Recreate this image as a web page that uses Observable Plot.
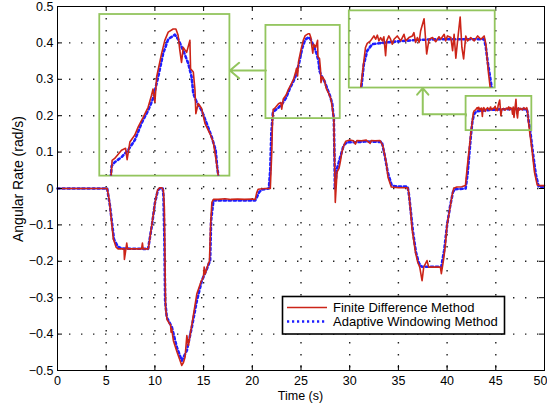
<!DOCTYPE html>
<html><head><meta charset="utf-8">
<script src="https://cdn.jsdelivr.net/npm/d3@7"></script>
<script src="https://cdn.jsdelivr.net/npm/@observablehq/plot@0.6"></script>
<style>
body{margin:0;background:#fff;}
#wrap{position:relative;width:547px;height:412px;overflow:hidden;}
#wrap svg{position:absolute;max-width:none;}
</style></head><body><div id="wrap"></div>
<script>
// ---- data ----
const fdTime = [0,5.1,5.32,5.73,6.01,6.22,6.83,6.87,7.11,7.19,8.63,8.72,8.79,9.33,9.68,10.02,10.26,10.48,10.71,10.87,10.97,11.1,11.25,11.46,11.61,11.66,11.72,11.9,12.28,12.59,12.76,12.93,13.1,13.28,13.44,13.82,14.31,14.75,14.98,15.06,15.16,15.5,15.6,15.72,15.85,16.01,16.5,17.2,17.8,18.5,19.2,20.0,20.3,20.45,20.6,21.3,21.85,22.0,22.08,22.14,22.29,22.69,22.93,23.02,23.18,23.47,23.67,23.96,24.25,24.45,24.54,24.65,24.75,25.04,25.23,25.43,25.72,25.88,26.01,26.11,26.21,26.31,26.51,26.70,26.74,26.90,27.00,27.05,27.19,27.39,27.59,27.88,28.07,28.21,28.37,28.45,28.52,28.70,28.90,29.05,29.2,29.4,29.6,30.0,30.4,30.58,30.75,31.2,31.7,32.1,32.2,32.6,33.1,33.4,33.75,33.93,34.27,35.0,35.95,36.06,36.23,36.4,36.75,36.98,37.19,37.43,37.6,37.94,38.11,39.31,39.41,39.65,39.82,39.99,40.34,40.51,40.68,41.0,41.5,41.88,42.05,42.45,42.69,42.77,42.92,43.08,43.16,43.24,43.31,43.39,43.47,43.54,43.62,43.67,43.77,43.85,43.93,44.01,44.16,44.32,44.47,44.55,44.70,44.86,44.93,45.01,45.09,45.17,45.24,45.40,45.52,45.63,45.79,45.94,46.09,46.17,46.33,46.40,46.48,46.64,46.72,46.79,46.87,46.95,47.07,47.15,47.23,47.33,47.41,47.56,47.72,47.88,48.03,48.18,48.26,48.37,48.46,48.6,48.74,48.97,49.25,49.5,50];
const fdRate = [0,0,-0.033,-0.138,-0.161,-0.166,-0.166,-0.195,-0.150,-0.166,-0.166,-0.150,-0.166,-0.166,-0.100,-0.038,-0.005,0.002,0.002,-0.005,-0.05,-0.33,-0.36,-0.37,-0.375,-0.395,-0.385,-0.418,-0.45,-0.473,-0.486,-0.478,-0.463,-0.404,-0.431,-0.37,-0.289,-0.255,-0.244,-0.216,-0.235,-0.205,-0.2,-0.10,-0.038,-0.030,-0.030,-0.028,-0.030,-0.029,-0.030,-0.029,-0.030,-0.012,-0.002,0.0,0.0,0.10,0.192,0.217,0.220,0.233,0.236,0.218,0.246,0.257,0.270,0.285,0.301,0.320,0.330,0.309,0.349,0.386,0.407,0.420,0.425,0.425,0.415,0.391,0.372,0.396,0.388,0.407,0.362,0.357,0.328,0.291,0.307,0.299,0.275,0.259,0.246,0.222,0.192,0.077,-0.038,0.045,0.055,0.075,0.100,0.118,0.130,0.133,0.131,0.122,0.132,0.131,0.133,0.124,0.132,0.131,0.132,0.118,0.072,0.031,0.004,0.002,0.002,-0.010,-0.056,-0.111,-0.175,-0.202,-0.216,-0.253,-0.216,-0.198,-0.216,-0.216,-0.234,-0.193,-0.157,-0.102,-0.047,-0.019,0.001,0.004,0.005,0.008,0.054,0.155,0.208,0.213,0.216,0.222,0.218,0.223,0.216,0.220,0.216,0.221,0.198,0.216,0.222,0.218,0.212,0.218,0.222,0.216,0.224,0.216,0.220,0.222,0.226,0.214,0.220,0.214,0.228,0.243,0.200,0.218,0.220,0.215,0.221,0.218,0.224,0.216,0.222,0.220,0.204,0.224,0.195,0.216,0.245,0.208,0.194,0.222,0.216,0.220,0.216,0.222,0.218,0.222,0.212,0.179,0.159,0.13,0.10,0.045,0.010,0.008,0.008];

const awTime = [0,5.1,5.4,5.8,6.2,6.6,9.3,9.7,10.0,10.3,10.5,10.8,10.88,10.98,11.05,11.22,11.74,12.25,12.76,13.28,13.79,14.31,14.82,15.33,15.67,15.77,16.01,20.3,20.45,20.7,21.0,21.7,21.84,21.95,22.11,22.29,22.69,23.07,23.47,23.87,24.25,24.54,24.84,25.13,25.43,25.82,26.01,26.31,26.61,26.80,26.90,27.10,27.39,27.69,27.98,28.21,28.30,28.37,28.43,28.48,28.69,29.03,29.37,29.72,30.6,31.5,33.3,33.6,33.9,34.3,34.6,35.95,36.1,36.3,36.5,36.8,37.1,37.4,39.4,39.7,40.0,40.3,40.6,40.8,41.9,42.1,42.46,42.61,42.77,43.0,43.31,44.0,45.0,46.0,47.0,48.18,48.26,48.34,48.46,48.53,48.8,49.1,49.4,50];
const awRate = [0,0,-0.05,-0.14,-0.16,-0.165,-0.166,-0.10,-0.04,-0.005,0.0,0.0,-0.02,-0.15,-0.308,-0.354,-0.381,-0.436,-0.473,-0.445,-0.381,-0.308,-0.253,-0.221,-0.198,-0.088,-0.033,-0.033,-0.025,-0.01,-0.003,0.0,0.05,0.15,0.208,0.214,0.222,0.233,0.249,0.276,0.296,0.315,0.349,0.386,0.409,0.416,0.409,0.391,0.370,0.349,0.323,0.309,0.296,0.275,0.254,0.233,0.207,0.192,0.10,0.0,0.054,0.086,0.118,0.127,0.127,0.129,0.128,0.09,0.045,0.01,0.006,0.005,-0.02,-0.07,-0.12,-0.175,-0.205,-0.215,-0.215,-0.17,-0.10,-0.05,-0.01,-0.002,0.0,0.04,0.15,0.187,0.204,0.212,0.213,0.215,0.217,0.218,0.218,0.218,0.208,0.191,0.171,0.159,0.10,0.04,0.005,0.005];

const seriesNames = ["Finite Difference Method", "Adaptive Windowing Method"];
const xTicks = [0,5,10,15,20,25,30,35,40,45,50];
const yTicks = [-0.5,-0.4,-0.3,-0.2,-0.1,0,0.1,0.2,0.3,0.4,0.5];
const yTickLabels = ["−0.5","−0.4","−0.3","−0.2","−0.1","0","0.1","0.2","0.3","0.4","0.5"];
const xLabel = "Time (s)";
const yLabel = "Angular Rate (rad/s)";

// zoom insets: source region -> magnified display region (data units)
const insets = [
  {src: {x1: 21.40, x2: 29.03, y1: 0.192, y2: 0.448}, dst: {x1: 4.34, x2: 17.70, y1: 0.034, y2: 0.478}},
  {src: {x1: 41.95, x2: 48.70, y1: 0.159, y2: 0.253}, dst: {x1: 29.96, x2: 44.94, y1: 0.276, y2: 0.488}}
];

// ---- build tables ----
const fd = fdTime.map((t, i) => ({t, v: fdRate[i]}));
const aw = awTime.map((t, i) => ({t, v: awRate[i]}));

const RED = "#cc2418", BLUE = "#1e1eff", GREEN = "#93c55e";
const FONT = "'Liberation Sans', Arial, Helvetica, sans-serif";
const fdStyle = {stroke: RED, strokeWidth: 1.6};
const awStyle = {stroke: BLUE, strokeWidth: 2.6, strokeDasharray: "2.2,2.8"};
const gridStyle = {stroke: "#222", strokeWidth: 1.4, strokeDasharray: "1.4,10.6"};

const W = 547, H = 412, ML = 57, MR = 3, MT = 6, MB = 42;
const PW = W - ML - MR, PH = H - MT - MB;

const arrow1 = {x1: insets[0].src.x1, y1: 0.324, x2: insets[0].dst.x2, y2: 0.324};
const elbowX = 37.5, elbowY = 0.204;

const main = Plot.plot({
  width: W, height: H,
  marginLeft: ML, marginRight: MR, marginTop: MT, marginBottom: MB,
  style: {fontFamily: FONT, fontSize: "12.5px", background: "white", color: "black", overflow: "visible"},
  x: {domain: [0, 50], ticks: xTicks, tickSize: 0, tickPadding: 6, label: null, tickFormat: d => String(d)},
  y: {domain: [-0.5, 0.5], ticks: yTicks, tickSize: 0, tickPadding: 4, label: null,
      tickFormat: d => yTickLabels[yTicks.findIndex(v => Math.abs(v - d) < 1e-9)]},
  marks: [
    Plot.ruleX(xTicks.slice(1, -1), gridStyle),
    Plot.ruleY(yTicks.slice(1, -1), gridStyle),
    Plot.line(aw, {x: "t", y: "v", ...awStyle}),
    Plot.line(fd, {x: "t", y: "v", ...fdStyle}),
    Plot.tickX(xTicks, {x: d => d, insetTop: PH - 5, stroke: "black"}),
    Plot.tickX(xTicks, {x: d => d, insetBottom: PH - 5, stroke: "black"}),
    Plot.tickY(yTicks, {y: d => d, insetRight: PW - 5, stroke: "black"}),
    Plot.tickY(yTicks, {y: d => d, insetLeft: PW - 5, stroke: "black"}),
    Plot.frame({stroke: "black"}),
    Plot.rect(insets, {x1: d => d.src.x1, x2: d => d.src.x2, y1: d => d.src.y1, y2: d => d.src.y2, fill: "none", stroke: GREEN, strokeWidth: 1.8}),
    Plot.rect(insets, {x1: d => d.dst.x1, x2: d => d.dst.x2, y1: d => d.dst.y1, y2: d => d.dst.y2, fill: "none", stroke: GREEN, strokeWidth: 1.8}),
    Plot.arrow([arrow1], {x1: "x1", y1: "y1", x2: "x2", y2: "y2", stroke: GREEN, strokeWidth: 2, headLength: 9, headAngle: 80}),
    Plot.line([{x: insets[1].src.x1, y: elbowY}, {x: elbowX, y: elbowY}], {x: "x", y: "y", stroke: GREEN, strokeWidth: 2}),
    Plot.arrow([{x1: elbowX, y1: elbowY, x2: elbowX, y2: insets[1].dst.y1}], {x1: "x1", y1: "y1", x2: "x2", y2: "y2", stroke: GREEN, strokeWidth: 2, headLength: 9, headAngle: 80})
  ]
});
main.style.left = "0px"; main.style.top = "0px";
const wrap = document.getElementById("wrap");
wrap.append(main);

const svg = d3.select(main);
// keep the last x tick label inside the picture
svg.selectAll("text").filter(function() { return this.textContent === "50"; }).attr("dx", -4);

// axis labels
svg.append("text").attr("x", (ML + W - MR) / 2).attr("y", 400).attr("text-anchor", "middle")
  .attr("font-family", FONT).attr("font-size", 12.5).attr("fill", "black").text(xLabel);
svg.append("text").attr("transform", "translate(23,179) rotate(-90)").attr("text-anchor", "middle")
  .attr("font-family", FONT).attr("font-size", 14).attr("fill", "black").text(yLabel);

// legend
const lg = svg.append("g").attr("text-anchor", "start");
lg.append("rect").attr("x", 282.5).attr("y", 296.5).attr("width", 222).attr("height", 37.5)
  .attr("fill", "white").attr("stroke", "black").attr("stroke-width", 1.6);
const legendStyles = [fdStyle, awStyle];
seriesNames.forEach((name, i) => {
  const yy = 307.5 + i * 14;
  const s = legendStyles[i];
  const ln = lg.append("line").attr("x1", 287).attr("x2", 327).attr("y1", yy).attr("y2", yy)
    .attr("stroke", s.stroke).attr("stroke-width", s.strokeWidth);
  if (s.strokeDasharray) ln.attr("stroke-dasharray", s.strokeDasharray);
  lg.append("text").attr("x", 333).attr("y", yy + 4.5).attr("text-anchor", "start")
    .attr("font-family", FONT).attr("font-size", 13).attr("fill", "black").text(name);
});

// magnified insets, drawn with their own scales over the display regions
const sx = main.scale("x"), sy = main.scale("y");
insets.forEach(ins => {
  const left = sx.apply(ins.dst.x1), right = sx.apply(ins.dst.x2);
  const top = sy.apply(ins.dst.y2), bottom = sy.apply(ins.dst.y1);
  const p = Plot.plot({
    width: right - left, height: bottom - top, margin: 0,
    style: {background: "transparent"},
    x: {domain: [ins.src.x1, ins.src.x2], axis: null},
    y: {domain: [ins.src.y1, ins.src.y2], axis: null},
    marks: [
      Plot.line(aw, {x: "t", y: "v", ...awStyle, clip: true}),
      Plot.line(fd, {x: "t", y: "v", ...fdStyle, clip: true})
    ]
  });
  p.style.left = left + "px"; p.style.top = top + "px";
  wrap.append(p);
});
</script></body></html>
